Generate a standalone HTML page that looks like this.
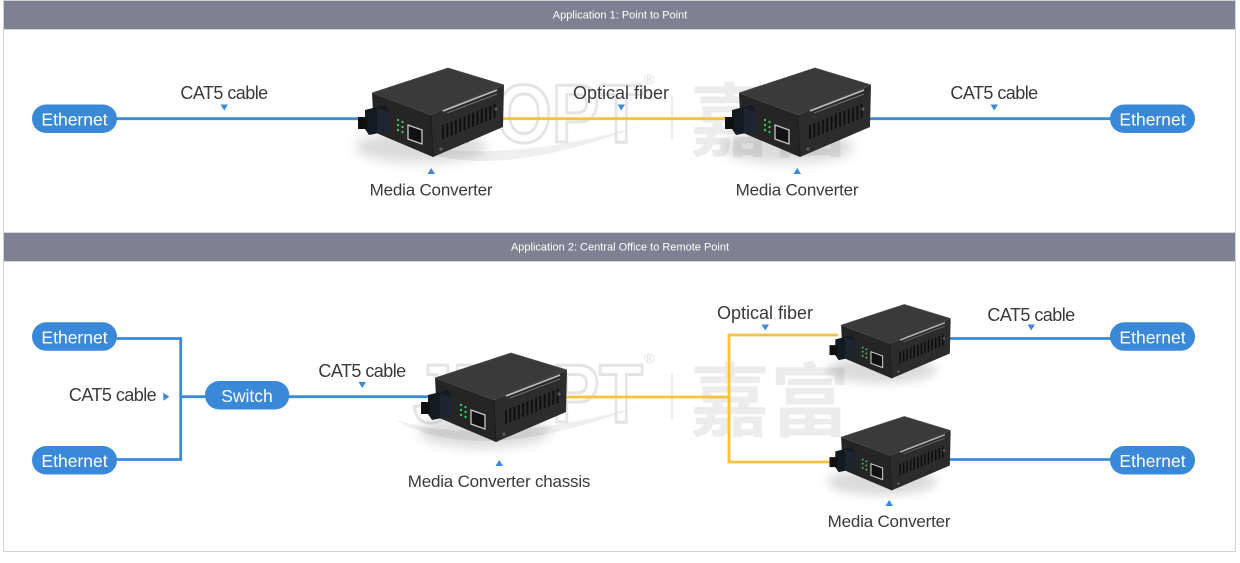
<!DOCTYPE html>
<html><head><meta charset="utf-8"><style>
html,body{margin:0;padding:0;background:#fff;}
svg{display:block;}
text{font-family:"Liberation Sans","Noto Sans CJK SC",sans-serif;}
</style></head><body>
<svg width="1240" height="563" viewBox="0 0 1240 563" xmlns="http://www.w3.org/2000/svg">
<defs>
<filter id="blur" x="-50%" y="-50%" width="200%" height="200%"><feGaussianBlur stdDeviation="6"/></filter>
<symbol id="mc" viewBox="0 0 150 100" overflow="visible">
  <ellipse cx="66" cy="82" rx="66" ry="16" fill="#000" opacity="0.14" filter="url(#blur)"/>
  <polygon points="17,28 93,3 149,20 76,50" fill="#3a3a3a"/>
  <polygon points="17,28 76,50 78,92 19,67" fill="#252525"/>
  <polygon points="76,50 149,20 148,62 78,92" fill="#2c2c2c"/>
  <polyline points="17,28 93,3 149,20" fill="none" stroke="#4a4a4a" stroke-width="0.8"/>
  <line x1="76" y1="50" x2="78" y2="92" stroke="#1a1a1a" stroke-width="0.8"/>
  <line x1="88" y1="46" x2="142" y2="25" stroke="#d8d8d8" stroke-width="1.6" opacity="0.85"/>
  <line x1="92" y1="48" x2="142" y2="29" stroke="#999" stroke-width="0.7" opacity="0.8"/>
  <g stroke="#0e0e0e" stroke-width="1.8">
    <line x1="88" y1="60.1" x2="88" y2="74.1"/>
    <line x1="92.3" y1="58.3" x2="92.3" y2="72.3"/>
    <line x1="96.6" y1="56.6" x2="96.6" y2="70.6"/>
    <line x1="100.9" y1="54.8" x2="100.9" y2="68.8"/>
    <line x1="105.2" y1="53" x2="105.2" y2="67"/>
    <line x1="109.5" y1="51.3" x2="109.5" y2="65.3"/>
    <line x1="113.8" y1="49.5" x2="113.8" y2="63.5"/>
    <line x1="118.1" y1="47.7" x2="118.1" y2="61.7"/>
    <line x1="122.4" y1="46" x2="122.4" y2="60"/>
    <line x1="126.7" y1="44.2" x2="126.7" y2="58.2"/>
    <line x1="131" y1="42.4" x2="131" y2="56.4"/>
    <line x1="135.3" y1="40.7" x2="135.3" y2="54.7"/>
    <line x1="139.6" y1="38.9" x2="139.6" y2="52.9"/>
  </g>
  <polygon points="10,45 30,40 34,47 34,66 14,70 10,64" fill="#141a22"/>
  <polygon points="22,43 34,47 34,66 22,68" fill="#1d2530"/>
  <rect x="3" y="52" width="9" height="12" fill="#101010"/>
  <g fill="#3fbf5a">
    <circle cx="43" cy="55" r="1.2"/><circle cx="43" cy="60" r="1.2"/><circle cx="43" cy="65" r="1.2"/>
    <circle cx="47.5" cy="57" r="1.2"/><circle cx="47.5" cy="62" r="1.2"/><circle cx="47.5" cy="67" r="1.2"/>
  </g>
  <polygon points="53,60 67,65 67,79 53,74" fill="#111" stroke="#c8c8c8" stroke-width="1.3"/>
  <circle cx="141" cy="44" r="1.6" fill="#5a5a5a"/>
  <circle cx="86" cy="84" r="1.6" fill="#5a5a5a"/>
</symbol>
</defs>

<!-- frame -->
<rect x="3.5" y="0.5" width="1232" height="551" fill="#fff" stroke="#d3d3d3" stroke-width="1"/>
<rect x="4" y="1" width="1231" height="28" fill="#7c8291"/>
<line x1="4" y1="29.5" x2="1235" y2="29.5" stroke="#d6d6d6"/>
<line x1="4" y1="232.5" x2="1235" y2="232.5" stroke="#d6d6d6"/>
<rect x="4" y="233" width="1231" height="28" fill="#7c8291"/>
<line x1="4" y1="261.5" x2="1235" y2="261.5" stroke="#d6d6d6"/>
<text x="620" y="18.5" font-size="11" fill="#fff" text-anchor="middle">Application 1: Point to Point</text>
<text x="620" y="250.5" font-size="11" fill="#fff" text-anchor="middle">Application 2: Central Office to Remote Point</text>

<!-- watermark section 1 -->
<g>
  <path d="M395 140 Q480 188 640 126 Q490 168 395 140 Z" fill="#efefef"/>
  <text x="413" y="142" font-size="83" font-weight="bold" textLength="230" lengthAdjust="spacingAndGlyphs" fill="none" stroke="#e4e4e4" stroke-width="3">JFOPT</text>
  <text x="644" y="84" font-size="14" fill="#dcdcdc">®</text>
  <line x1="672" y1="95" x2="672" y2="140" stroke="#e6e6e6" stroke-width="1.5"/>
  <text x="690" y="150" font-size="80" font-weight="bold" fill="#ececec" style="font-family:'Noto Sans CJK SC','WenQuanYi Zen Hei',sans-serif">嘉富</text>
</g>
<!-- watermark section 2 -->
<g>
  <path d="M395 420 Q480 468 640 406 Q490 448 395 420 Z" fill="#efefef"/>
  <text x="413" y="422" font-size="83" font-weight="bold" textLength="230" lengthAdjust="spacingAndGlyphs" fill="none" stroke="#e4e4e4" stroke-width="3">JFOPT</text>
  <text x="644" y="363" font-size="14" fill="#dcdcdc">®</text>
  <line x1="672" y1="373" x2="672" y2="420" stroke="#e6e6e6" stroke-width="1.5"/>
  <text x="690" y="430" font-size="80" font-weight="bold" fill="#ececec" style="font-family:'Noto Sans CJK SC','WenQuanYi Zen Hei',sans-serif">嘉富</text>
</g>

<!-- section 1 lines -->
<line x1="110" y1="118.7" x2="365" y2="118.7" stroke="#3d8ad6" stroke-width="2.8"/>
<line x1="495" y1="118.7" x2="732" y2="118.7" stroke="#f5c242" stroke-width="2.8"/>
<line x1="860" y1="118.7" x2="1120" y2="118.7" stroke="#3d8ad6" stroke-width="2.8"/>

<!-- section 2 lines -->
<polyline points="110,338.5 180.7,338.5 180.7,459.5 110,459.5" fill="none" stroke="#3d8ad6" stroke-width="2.8"/>
<line x1="180.7" y1="396.7" x2="210" y2="396.7" stroke="#3d8ad6" stroke-width="2.8"/>
<line x1="285" y1="396.7" x2="432" y2="396.7" stroke="#3d8ad6" stroke-width="2.8"/>
<polyline points="560,397 729,397" fill="none" stroke="#f5c242" stroke-width="2.8"/>
<polyline points="838,335 729,335 729,462 836,462" fill="none" stroke="#f5c242" stroke-width="2.8"/>
<line x1="940" y1="338.5" x2="1120" y2="338.5" stroke="#3d8ad6" stroke-width="2.8"/>
<line x1="935" y1="459.5" x2="1120" y2="459.5" stroke="#3d8ad6" stroke-width="2.8"/>

<!-- converters -->
<use href="#mc" x="355" y="65" width="150" height="100"/>
<use href="#mc" x="722" y="65" width="150" height="100"/>
<use href="#mc" x="418" y="350" width="150" height="100"/>
<use href="#mc" x="827" y="302" width="124.5" height="83"/>
<use href="#mc" x="827" y="414" width="124.5" height="83"/>

<!-- pills -->
<g fill="#3a89d8">
  <rect x="32" y="104.5" width="85" height="28.5" rx="14.2"/>
  <rect x="1110" y="104.5" width="85" height="28.5" rx="14.2"/>
  <rect x="32" y="322.3" width="85" height="28.5" rx="14.2"/>
  <rect x="32" y="446" width="85" height="28.5" rx="14.2"/>
  <rect x="205" y="381" width="84.3" height="28.5" rx="14.2"/>
  <rect x="1110" y="322.3" width="85" height="28.5" rx="14.2"/>
  <rect x="1110" y="446" width="85" height="28.5" rx="14.2"/>
</g>
<g font-size="17.5" fill="#fff" text-anchor="middle">
  <text x="74.5" y="125.3">Ethernet</text>
  <text x="1152.5" y="125.3">Ethernet</text>
  <text x="74.5" y="343.3">Ethernet</text>
  <text x="74.5" y="467">Ethernet</text>
  <text x="247" y="402">Switch</text>
  <text x="1152.5" y="343.3">Ethernet</text>
  <text x="1152.5" y="467">Ethernet</text>
</g>

<!-- labels -->
<g font-size="18" fill="#3a3a3a" text-anchor="middle">
  <text x="224" y="99" letter-spacing="-0.55">CAT5 cable</text>
  <text x="621" y="99">Optical fiber</text>
  <text x="994" y="99" letter-spacing="-0.55">CAT5 cable</text>
  <text x="362" y="377" letter-spacing="-0.55">CAT5 cable</text>
  <text x="765" y="319">Optical fiber</text>
  <text x="1031" y="321" letter-spacing="-0.55">CAT5 cable</text>
  <text x="112.5" y="401" letter-spacing="-0.55">CAT5 cable</text>
</g>
<g font-size="17" fill="#3a3a3a" text-anchor="middle" letter-spacing="-0.2">
  <text x="431" y="195.5">Media Converter</text>
  <text x="797" y="195.5">Media Converter</text>
  <text x="499" y="487">Media Converter chassis</text>
  <text x="889" y="527">Media Converter</text>
</g>

<!-- triangles -->
<g fill="#3a89d8">
  <polygon points="220.5,104.5 228,104.5 224.25,110.5"/>
  <polygon points="617.5,104.5 625,104.5 621.25,110.5"/>
  <polygon points="990.5,104.5 998,104.5 994.25,110.5"/>
  <polygon points="427.5,174 435,174 431.25,168"/>
  <polygon points="793.5,174 801,174 797.25,168"/>
  <polygon points="358.5,382 366,382 362.25,388"/>
  <polygon points="761.5,324.5 769,324.5 765.25,330.5"/>
  <polygon points="1027.5,324.5 1035,324.5 1031.25,330.5"/>
  <polygon points="163.3,392.7 163.3,400.7 169.3,396.7"/>
  <polygon points="495.5,466 503,466 499.25,460"/>
  <polygon points="885.5,506 893,506 889.25,500"/>
</g>
</svg>
</body></html>
